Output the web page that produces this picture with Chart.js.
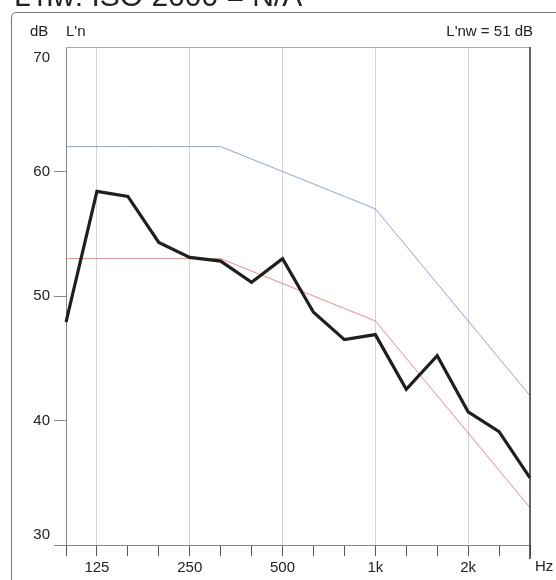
<!DOCTYPE html>
<html>
<head>
<meta charset="utf-8">
<script src="https://cdn.jsdelivr.net/npm/chart.js@4"></script>
<style>
  body { margin: 0; background: #fff; }
  #wrap { width: 556px; height: 580px; }
</style>
</head>
<body>
<div id="wrap"><canvas id="chart" width="556" height="580"></canvas></div>
<script>
// one-third octave bands, 100 Hz .. 3150 Hz
const bands = ['100', '125', '160', '200', '250', '315', '400', '500', '630', '800', '1000', '1250', '1600', '2000', '2500', '3150'];
const bandLabels = { '125': '125', '250': '250', '500': '500', '1000': '1k', '2000': '2k' };
const measured = [47.9, 58.4, 58.0, 54.3, 53.1, 52.8, 51.1, 53.0, 48.7, 46.5, 46.9, 42.5, 45.2, 40.7, 39.1, 35.4];
const refCurve = [62, 62, 62, 62, 62, 62, 61, 60, 59, 58, 57, 54, 51, 48, 45, 42];
const shiftedRef = [53, 53, 53, 53, 53, 53, 52, 51, 50, 49, 48, 45, 42, 39, 36, 33];
const yTicks = [30, 40, 50, 60, 70];
const title = "L'nw: ISO 2000 = N/A";
const ratingText = "L'nw = 51 dB";

const FONT = '"Liberation Sans", Arial, sans-serif';

const decorations = {
  id: 'decorations',
  afterDraw(chart) {
    const { ctx, chartArea: a, scales: { y } } = chart;
    ctx.save();

    // cut-off heading above the frame
    ctx.fillStyle = '#222';
    ctx.font = '30px ' + FONT;
    ctx.textAlign = 'left';
    ctx.textBaseline = 'alphabetic';
    ctx.fillText(title, 14, 6);

    // outer frame (runs off the page to the right and bottom)
    ctx.strokeStyle = '#777';
    ctx.lineWidth = 1;
    ctx.beginPath();
    ctx.moveTo(11.5, 580);
    ctx.lineTo(11.5, 18);
    ctx.quadraticCurveTo(11.5, 12.5, 17, 12.5);
    ctx.lineTo(556, 12.5);
    ctx.stroke();

    // plot box top and right edge
    ctx.strokeStyle = '#aaa';
    ctx.beginPath();
    ctx.moveTo(a.left, a.top + 0.5);
    ctx.lineTo(a.right, a.top + 0.5);
    ctx.stroke();
    ctx.strokeStyle = '#333';
    ctx.lineWidth = 1.5;
    ctx.beginPath();
    ctx.moveTo(a.right, a.top);
    ctx.lineTo(a.right, a.bottom + 14);
    ctx.stroke();

    // header texts
    ctx.fillStyle = '#222';
    ctx.font = '15px ' + FONT;
    ctx.textBaseline = 'middle';
    ctx.fillText('dB', 30, 32);
    ctx.fillText("L'n", 66, 32);
    ctx.textAlign = 'right';
    ctx.fillText(ratingText, 533, 32);

    // y tick labels, end ones pulled inside the box
    yTicks.forEach(v => {
      let py = y.getPixelForValue(v);
      py = Math.min(Math.max(py, a.top + 11), a.bottom - 10);
      ctx.fillText(String(v), 50, py);
    });

    // unit on the x axis
    ctx.textAlign = 'left';
    ctx.fillText('Hz', 535, 567);
    ctx.restore();
  }
};

new Chart(document.getElementById('chart'), {
  type: 'line',
  data: {
    labels: bands,
    datasets: [
      { label: "L'n", data: measured, borderColor: '#1f1f1f', borderWidth: 3.2, pointRadius: 0, tension: 0 },
      { label: 'ref', data: refCurve, borderColor: '#8ea4d4', borderWidth: 1, pointRadius: 0, tension: 0 },
      { label: 'shifted', data: shiftedRef, borderColor: '#e58a8a', borderWidth: 1, pointRadius: 0, tension: 0 }
    ]
  },
  options: {
    responsive: false,
    animation: false,
    layout: { padding: { top: 47, right: 26, left: 0, bottom: 0 } },
    plugins: { legend: { display: false }, tooltip: { enabled: false } },
    scales: {
      x: {
        offset: false,
        afterFit: s => { s.height = 35; },
        border: { color: '#888', width: 1 },
        grid: {
          color: c => bandLabels[bands[c.index]] ? '#d4d4d4' : 'rgba(0,0,0,0)',
          tickColor: '#555',
          tickLength: 11,
          drawTicks: true
        },
        border: { color: '#888', width: 1, dash: [] },
        ticks: {
          autoSkip: false,
          maxRotation: 0,
          padding: 3,
          color: '#222',
          font: { family: FONT, size: 15 },
          callback: (v, i) => bandLabels[bands[i]] || ''
        }
      },
      y: {
        min: 30,
        max: 70,
        afterFit: s => { s.width = 66; },
        border: { color: '#888', width: 1 },
        grid: {
          color: 'rgba(0,0,0,0)',
          tickColor: c => c.tick && c.tick.value === 70 ? 'rgba(0,0,0,0)' : '#888',
          tickLength: 12,
          drawTicks: true
        },
        ticks: { stepSize: 10, display: false }
      }
    }
  },
  plugins: [decorations]
});
</script>
</body>
</html>
